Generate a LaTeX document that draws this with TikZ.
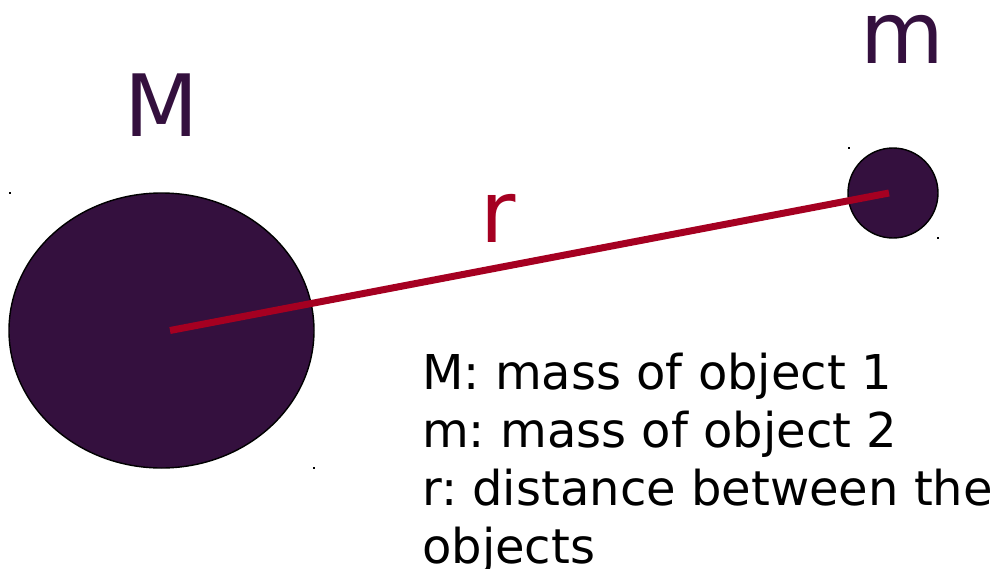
\documentclass[tikz,border=0pt]{standalone}
\usepackage{fontspec}
\setmainfont{DejaVu Sans}
\usetikzlibrary{shapes.geometric}
\definecolor{massviolet}{RGB}{52,16,62}
\definecolor{distred}{RGB}{165,0,33}
\frenchspacing
\begin{document}
\begin{tikzpicture}[x=1pt,y=-1pt,
    body/.style={draw=black,line width=1.4pt,fill=massviolet,inner sep=0pt},
    biglabel/.style={font=\fontsize{86}{100}\selectfont,inner sep=0pt,anchor=base}]
      \useasboundingbox (0,0) rectangle (996,568);
      % the two masses
      \node[body,ellipse,minimum width=305pt,minimum height=275pt] (bigM) at (161.5,330.5) {};
      \node[body,circle,minimum size=90pt] (smallm) at (893,193) {};
      % distance between them
      \draw[distred,line width=7pt] ([xshift=8.5pt]bigM.center) -- ([xshift=-4pt]smallm.center);
      \node[biglabel,massviolet] (labM) at (162,136) {M};
      \node[biglabel,massviolet] (labm) at (902,63) {m};
      \node[biglabel,distred] (labr) at (498,242) {r};
      % legend
      \node[font=\fontsize{48}{58}\selectfont,align=left,anchor=north west,inner sep=0pt]
        (legend) at (422,353) {M: mass of object 1\\m: mass of object 2\\r: distance between the\\objects};
      % corner marks left by the drawing program
      \foreach \px/\py in {10/193,314/468,849/148,938/238}
        \fill (\px-0.7,\py-0.7) rectangle (\px+0.7,\py+0.7);
\end{tikzpicture}
\end{document}
